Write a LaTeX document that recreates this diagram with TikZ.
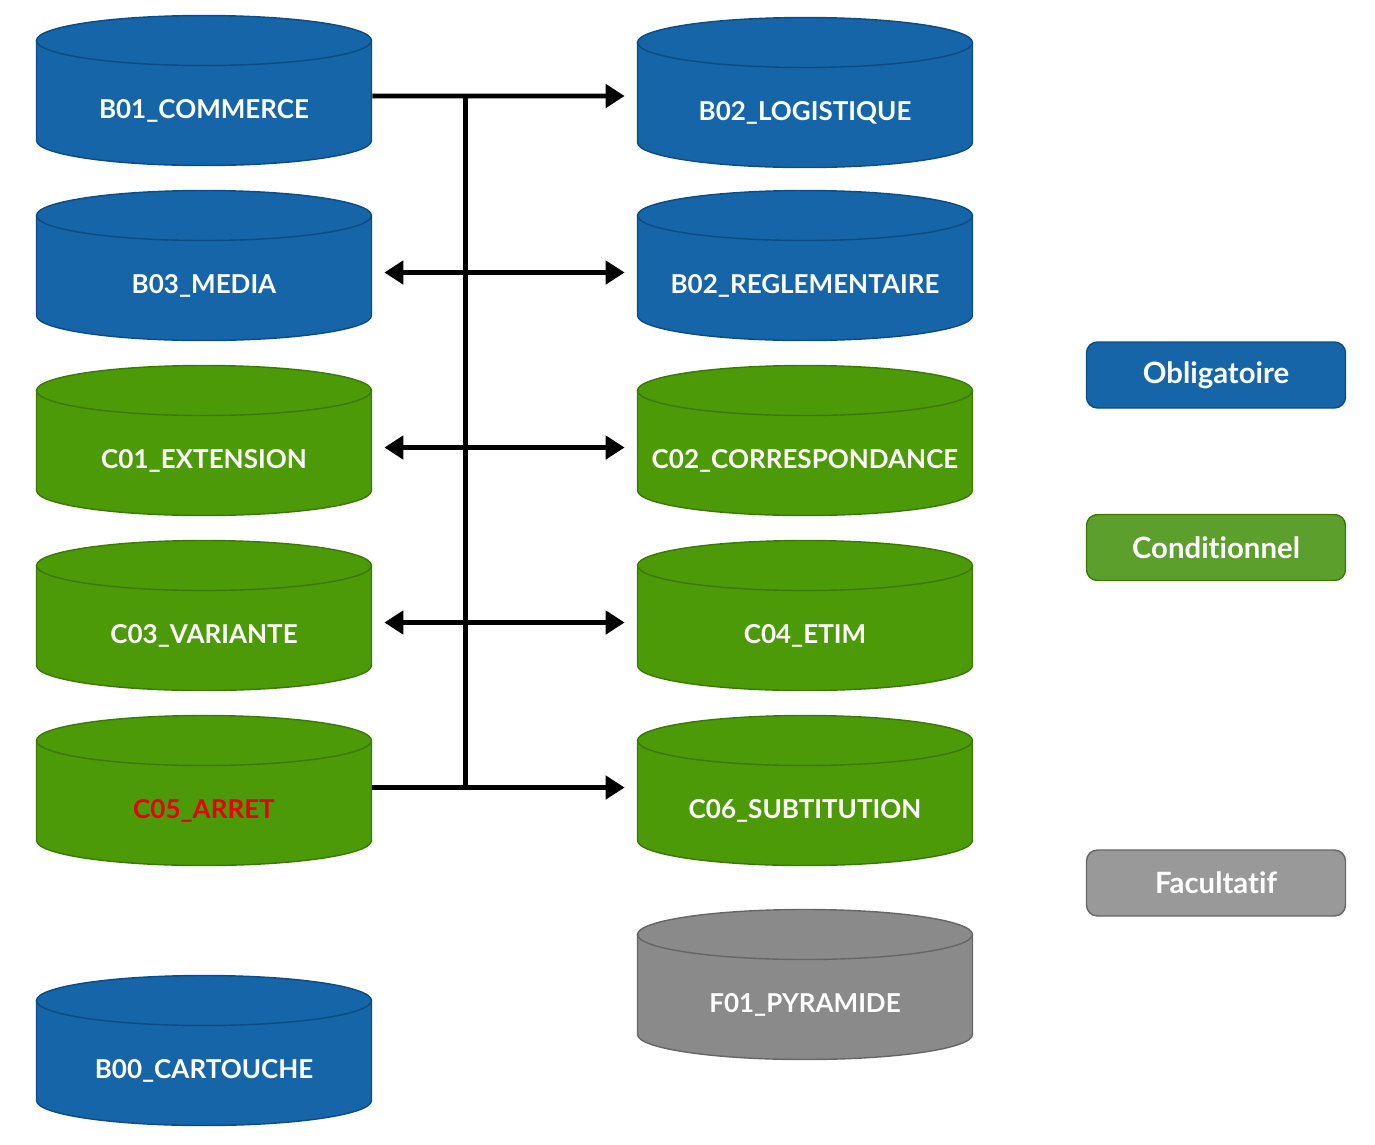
\documentclass[tikz,border=0pt]{standalone}
\usepackage{fontspec}
\setmainfont{Lato}[Ligatures=NoCommon]
\usepackage{tikz}
\usetikzlibrary{arrows.meta,positioning,calc,backgrounds}
\definecolor{oblig}{HTML}{1565A8}
\definecolor{obligdark}{HTML}{0D4C82}
\definecolor{cond}{HTML}{4C9A08}
\definecolor{conddark}{HTML}{3B7806}
\definecolor{condlight}{HTML}{5C9F2C}
\definecolor{facul}{HTML}{8A8A8A}
\definecolor{faculdark}{HTML}{666666}
\definecolor{faculight}{HTML}{999999}
\definecolor{arretred}{HTML}{E8000A}

\begin{document}
\begin{tikzpicture}
\tikzstyle{table}=[rectangle, inner sep=0pt, minimum width=6.72cm, minimum height=0.8cm, text=white, font=\bfseries\fontsize{14.8}{17}\selectfont, node distance=3.5cm]
\tikzstyle{legend}=[rectangle, rounded corners=0.22cm, thick, minimum width=5.18cm, minimum height=1.32cm, text=white, font=\bfseries\fontsize{16.7}{19}\selectfont]
\tikzstyle{connect}=[line width=2.8pt, -{Triangle[length=0.38cm,width=0.46cm]}, shorten >=0.24cm]
\tikzstyle{both}=[connect, {Triangle[length=0.38cm,width=0.46cm]}-{Triangle[length=0.38cm,width=0.46cm]}, shorten <=0.24cm]

\useasboundingbox (0,0) rectangle (27.5,-22.88);

  % left column
  \node[table] (b01) at (4.08,-2.21)    {B01\_COMMERCE};
  \node[table] (b03) [below of =b01]    {B03\_MEDIA};
  \node[table] (c01) [below of =b03]    {C01\_EXTENSION};
  \node[table] (c03) [below of =c01]    {C03\_VARIANTE};
  \node[table] (c05) [below of =c03]    {\textcolor{arretred}{C05\_ARRET}};
  \node[table] (b00) [below of =c05, node distance=5.2cm] {B00\_CARTOUCHE};

  % right column
  \node[table] (b02l) [right of =b01, node distance=12.02cm, yshift=-0.04cm] {B02\_LOGISTIQUE};
  \node[table] (b02r) [below of =b02l, yshift=0.04cm]  {B02\_REGLEMENTAIRE};
  \node[table] (c02)  [below of =b02r]  {C02\_CORRESPONDANCE};
  \node[table] (c04)  [below of =c02]   {C04\_ETIM};
  \node[table] (c06)  [below of =c04]   {C06\_SUBTITUTION};
  \node[table] (f01)  [below of =c06, node distance=3.88cm] {F01\_PYRAMIDE};

  % cylinders behind the labels
  \begin{scope}[on background layer]
  \foreach \n/\c/\d in {b01/oblig/obligdark, b03/oblig/obligdark, c01/cond/conddark, c03/cond/conddark, c05/cond/conddark, b00/oblig/obligdark,
                        b02l/oblig/obligdark, b02r/oblig/obligdark, c02/cond/conddark, c04/cond/conddark, c06/cond/conddark, f01/facul/faculdark} {
    \filldraw[fill=\c, draw=\d, thick] ($(\n.center)+(-3.35,1.40)$) -- ($(\n.center)+(-3.35,-0.60)$)
      arc[start angle=180, end angle=360, x radius=3.35cm, y radius=0.5cm] -- ($(\n.center)+(3.35,1.40)$)
      arc[start angle=0, end angle=180, x radius=3.35cm, y radius=0.5cm] -- cycle;
    \draw[\d, thick] ($(\n.center)+(-3.35,1.40)$) arc[start angle=180, end angle=360, x radius=3.35cm, y radius=0.5cm];
  }
  \end{scope}

  % legend
  \node[legend, fill=oblig, draw=obligdark]  (lob)   at (24.32,-7.50)  {Obligatoire};
  \node[legend, fill=condlight, draw=conddark] (lcond) at (24.32,-10.95) {Conditionnel};
  \node[legend, fill=faculight, draw=faculdark] (lfac) at (24.32,-17.66) {Facultatif};

  % links
  \coordinate (top) at ($(b01.east)+(1.86,0.29)$);
  \coordinate (bot) at ($(c05.east)+(1.86,0.46)$);
  \draw[connect] ([yshift=0.29cm]b01.east) -- ([yshift=0.33cm]b02l.west);
  \draw[both] ([yshift=0.26cm]b03.east) -- ([yshift=0.26cm]b02r.west);
  \draw[both] ([yshift=0.26cm]c01.east) -- ([yshift=0.26cm]c02.west);
  \draw[both] ([yshift=0.26cm]c03.east) -- ([yshift=0.26cm]c04.west);
  \draw[connect] ([yshift=0.46cm]c05.east) -- ([yshift=0.46cm]c06.west);
  \draw[line width=2.8pt] (top) -- (bot);

\end{tikzpicture}
\end{document}
